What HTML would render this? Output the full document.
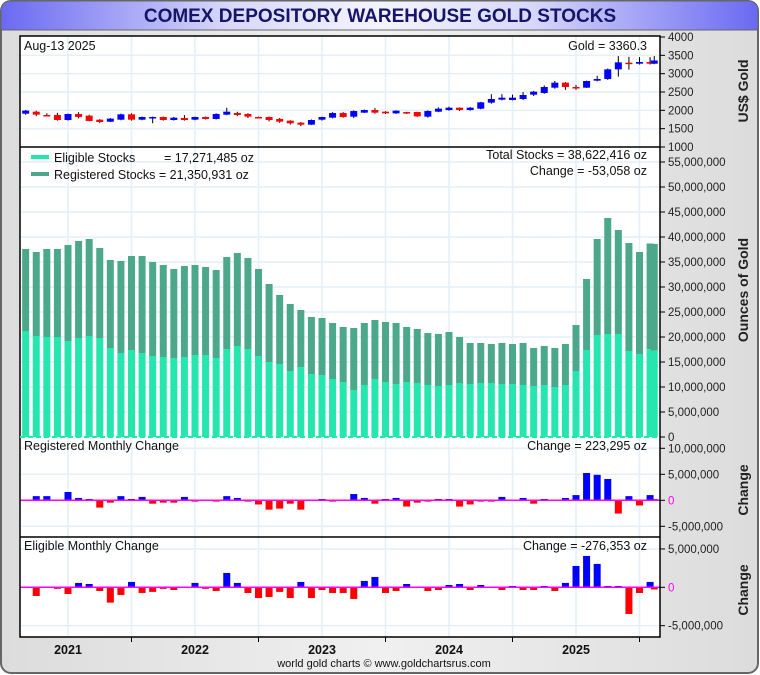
<!DOCTYPE html>
<html><head><meta charset="utf-8"><style>
html,body{margin:0;padding:0;background:#fff;}
svg{display:block;font-family:"Liberation Sans",sans-serif;}
</style></head><body>
<svg id="chart" width="760" height="675" viewBox="0 0 760 675" xmlns="http://www.w3.org/2000/svg">
<defs>
<linearGradient id="tg" x1="0" x2="1" y1="0" y2="0">
<stop offset="0" stop-color="#6a6af2"/><stop offset="0.3" stop-color="#d8d8fa"/><stop offset="0.5" stop-color="#f4f4fe"/><stop offset="0.7" stop-color="#d8d8fa"/><stop offset="1" stop-color="#6a6af2"/>
</linearGradient>
<linearGradient id="bg" x1="0" x2="1" y1="0" y2="0">
<stop offset="0" stop-color="#dcdcdc"/><stop offset="0.5" stop-color="#f0f0f0"/><stop offset="1" stop-color="#dcdcdc"/>
</linearGradient>
</defs>
<rect x="1" y="1" width="757" height="672" rx="10" fill="url(#bg)" stroke="#666" stroke-width="2"/>
<path d="M1,30 L1,11 Q1,1 11,1 L748,1 Q758,1 758,11 L758,30 Z" fill="url(#tg)" stroke="#666" stroke-width="1"/>
<text x="380" y="22" text-anchor="middle" font-size="19" font-weight="bold" fill="#15156a">COMEX DEPOSITORY WAREHOUSE GOLD STOCKS</text>
<rect x="20" y="36" width="640" height="601" fill="#fff"/>
<g id="grid"></g>
<g id="marks"></g>
<g id="frame"></g>
<g id="labels"></g>
</svg>
<script>
const dates = ["2020-09","2020-10","2020-11","2020-12","2021-01","2021-02","2021-03","2021-04","2021-05","2021-06","2021-07","2021-08","2021-09","2021-10","2021-11","2021-12","2022-01","2022-02","2022-03","2022-04","2022-05","2022-06","2022-07","2022-08","2022-09","2022-10","2022-11","2022-12","2023-01","2023-02","2023-03","2023-04","2023-05","2023-06","2023-07","2023-08","2023-09","2023-10","2023-11","2023-12","2024-01","2024-02","2024-03","2024-04","2024-05","2024-06","2024-07","2024-08","2024-09","2024-10","2024-11","2024-12","2025-01","2025-02","2025-03","2025-04","2025-05","2025-06","2025-07","2025-08","2025-08-13"];
const totalStocks = [37.6,37.0,37.6,37.6,38.4,39.2,39.6,37.8,35.4,35.2,
36.2,36.2,35.0,34.4,33.6,34.2,34.4,34.0,33.4,36.0,
36.8,35.8,33.6,30.6,28.4,26.6,25.4,24.0,23.8,22.8,
22.0,21.8,22.8,23.4,23.0,22.8,22.0,21.6,20.8,20.6,
21.0,20.0,18.8,18.8,18.6,18.8,18.6,18.8,17.8,18.2,
17.8,18.6,22.4,31.6,39.6,43.8,41.4,38.8,37.0,38.7,38.62];
const eligibleStocks = [21.2,20.2,20.0,20.0,19.2,19.8,20.2,19.8,17.8,16.8,
17.4,16.8,16.2,16.0,15.8,16.0,16.4,16.4,15.8,17.6,
18.2,17.6,16.2,15.0,14.6,13.2,14.0,12.6,12.4,11.6,
11.0,9.4,10.4,11.6,11.0,10.6,11.0,10.8,10.4,10.2,
10.4,10.8,10.6,10.8,10.8,10.6,10.6,10.4,10.2,10.4,
10.0,10.4,13.2,17.4,20.4,20.6,20.6,17.2,16.6,17.55,17.27];
const regChange = [0,0.8,0.8,0,1.6,0.45,0.25,-1.4,-0.45,0.8,
0.25,0.65,-0.65,-0.45,-0.45,0.65,-0.25,0,-0.25,0.8,
0.45,-0.25,-0.8,-1.8,-1.6,-0.65,-1.8,0,0.25,-0.25,
0,1.2,0.45,-0.65,0.25,0.45,-1.2,-0.45,-0.25,0.25,
0.25,-1.2,-0.8,-0.25,-0.25,0.65,0,0.45,-0.65,0.25,
0,0.45,1.0,5.25,4.9,4.1,-2.55,0.8,-1.0,1.0,0.22];
const eligChange = [0,-1.13,0,-0.2,-0.87,0.57,0.43,-0.48,-2.0,-1.0,
0.7,-0.74,-0.6,-0.2,-0.35,0,0.57,-0.2,-0.48,1.87,
0.57,-0.74,-1.4,-1.26,-0.6,-1.4,0.7,-1.4,-0.35,-0.74,
-0.74,-1.52,0.83,1.35,-0.74,-0.48,0.43,0,-0.48,-0.35,
0.3,0.43,-0.35,0.3,0,-0.35,0.17,-0.35,-0.35,0.17,
-0.48,0.57,2.78,4.09,3.05,0.17,0.17,-3.48,-0.74,0.7,-0.28];
const goldOpen = [1909,1963,1873,1873,1736,1900,1855,1745,1690,1745,
1891,1745,1800,1818,1736,1790,1745,1818,1764,1882,
1927,1900,1818,1818,1764,1718,1664,1609,1745,1800,
1927,1827,1936,2009,1963,1918,1954,1954,1827,1963,
2009,2072,2009,2045,2209,2291,2282,2309,2427,2473,
2618,2754,2636,2618,2809,2854,3118,3300,3272,3318,3272];
const goldClose = [1991,1882,1860,1736,1900,1820,1710,1682,1773,1891,
1745,1818,1818,1736,1800,1736,1818,1764,1900,1963,
1873,1827,1800,1736,1691,1646,1609,1736,1818,1927,
1818,1981,2009,1936,1918,1991,1936,1836,1981,2045,
2072,2009,2072,2218,2309,2345,2345,2418,2509,2636,
2754,2636,2618,2800,2854,3118,3309,3272,3318,3272,3360];
const goldHigh = [2010,1990,1920,1930,1910,1950,1880,1760,1790,1910,
1920,1830,1830,1830,1820,1870,1830,1830,1920,2070,
1960,1920,1830,1830,1790,1730,1680,1750,1830,1950,
1950,2000,2020,2060,1980,2000,1960,1960,2000,2080,
2100,2080,2090,2230,2440,2440,2430,2500,2530,2680,
2800,2770,2690,2810,2940,3140,3480,3460,3450,3450,3480];
const goldLow = [1880,1840,1840,1720,1720,1780,1700,1650,1680,1730,
1720,1730,1650,1720,1720,1720,1730,1750,1750,1870,
1840,1790,1780,1700,1660,1610,1570,1600,1720,1780,
1800,1790,1930,1910,1900,1900,1900,1820,1800,1950,
1990,1980,1990,2030,2180,2270,2270,2280,2390,2450,
2590,2560,2560,2610,2790,2830,2920,3110,3250,3250,3260];
const goldTicks = [1000,1500,2000,2500,3000,3500,4000];
const stockTicks = [0,5,10,15,20,25,30,35,40,45,50,55];
const regTicks = [10,5,0,-5];
const eligTicks = [5,0,-5];
const yearLabels = ["2021","2022","2023","2024","2025"];

const NS = "http://www.w3.org/2000/svg";
function mk(parent, tag, attrs, text){
  const e = document.createElementNS(NS, tag);
  for (const k in attrs) e.setAttribute(k, attrs[k]);
  if (text !== undefined) e.textContent = text;
  parent.appendChild(e); return e;
}
function yearFrac(d){
  const p = d.split("-").map(Number);
  return p[0] + (p[1]-1)/12 + ((p[2]||1)-1)/365;
}
const xOf = d => 68 + (yearFrac(d) - 2021) * 127;
const yGold = p => 147 - (p - 1000) * 110 / 3000;
const yStock = v => 437 - v * 5;
const yReg = v => 500.3 - v * 5.2;
const yElig = v => 587.3 - v * 7.67;

const grid = document.getElementById('grid');
const marks = document.getElementById('marks');
const frame = document.getElementById('frame');
const labels = document.getElementById('labels');
const GC = "#e4eff8";

// vertical grid lines every half year
for (let y = 2021; y <= 2025.5; y += 0.5) {
  const x = 68 + (y - 2021) * 127;
  const l = mk(grid, 'line', {x1:x, x2:x, y1:36, y2:637, stroke:GC, 'stroke-width':1.5});
  
  
}
function hgrid(y){
  const l = mk(grid, 'line', {x1:20, x2:660, y1:y, y2:y, stroke:GC, 'stroke-width':1.5});
  
  
}
goldTicks.forEach(t => { if (t > 1000 && t < 4000) hgrid(yGold(t)); });
stockTicks.forEach(t => { if (t > 0) hgrid(yStock(t)); });
regTicks.forEach(t => { if (t !== 0) hgrid(yReg(t)); });
eligTicks.forEach(t => { if (t !== 0) hgrid(yElig(t)); });

const BW = 7;
// stacked stock bars
dates.forEach((d, i) => {
  const x = xOf(d) - BW/2;
  const r = mk(marks, 'rect', {x:x, width:BW, y:yStock(totalStocks[i]), height:yStock(eligibleStocks[i]) - yStock(totalStocks[i]), fill:'#4ca88a'});
  
  
  const e = mk(marks, 'rect', {x:x, width:BW, y:yStock(eligibleStocks[i]), height:yStock(0) - yStock(eligibleStocks[i]), fill:'#24e6ae'});
  
  
});
// gold candles
dates.forEach((d, i) => {
  const xc = xOf(d);
  const w = mk(marks, 'line', {x1:xc, x2:xc, y1:yGold(goldHigh[i]), y2:yGold(goldLow[i]), stroke:'#000', 'stroke-width':1});
  
  
  const o = goldOpen[i], c = goldClose[i];
  const top = yGold(Math.max(o, c)), bot = yGold(Math.min(o, c));
  const b = mk(marks, 'rect', {x:xc - BW/2, width:BW, y:top, height:Math.max(1.5, bot - top), fill: c >= o ? '#0000ff' : '#ff0000'});
  
  
});
// change bars
function changeBars(arr, yf, name){
  dates.forEach((d, i) => {
    const v = arr[i]; if (v === 0) return;
    const y0 = yf(0), y1 = yf(v);
    const r = mk(marks, 'rect', {x:xOf(d) - BW/2, width:BW, y:Math.min(y0, y1), height:Math.abs(y1 - y0), fill: v > 0 ? '#0000ff' : '#ff0000'});
    
    
  });
  const z = mk(marks, 'line', {x1:20, x2:660, y1:yf(0), y2:yf(0), stroke:'#ff00ff', 'stroke-width':1.5});
  
  
}
changeBars(regChange, yReg, 'registered-change-bar');
changeBars(eligChange, yElig, 'eligible-change-bar');

// frame lines
const fr = mk(frame, 'rect', {x:20, y:36, width:640, height:601, fill:'none', stroke:'#000', 'stroke-width':1.5});


[147, 537].forEach(y => {
  const l = mk(frame, 'line', {x1:20, x2:660, y1:y, y2:y, stroke:'#000', 'stroke-width':1.5});
  
  
});
const gl = mk(frame, 'line', {x1:20, x2:660, y1:437, y2:437, stroke:'#24e6ae', 'stroke-width':2, 'stroke-dasharray':'5,3'});



// axis labels
function ytick(y, txt, color, name){
  const t = mk(labels, 'line', {x1:660, x2:665, y1:y, y2:y, stroke:'#000', 'stroke-width':1});
  
  
  const l = mk(labels, 'text', {x:668, y:y + 4, 'font-size':11.5, fill:color}, txt);
  
  
}
const fmt = v => (v * 1000000).toLocaleString('en-US');
goldTicks.forEach(t => ytick(yGold(t), String(t), '#222', 'gold-axis'));
stockTicks.forEach(t => ytick(yStock(t), fmt(t), '#222', 'stocks-axis'));
regTicks.forEach(t => { if (t !== 10 || true) ytick(yReg(t), t === 0 ? '0' : fmt(t), t === 0 ? '#ff00ff' : '#222', 'registered-change-axis'); });
eligTicks.forEach(t => ytick(yElig(t), t === 0 ? '0' : fmt(t), t === 0 ? '#ff00ff' : '#222', 'eligible-change-axis'));

yearLabels.forEach((yr, i) => {
  const x = 68 + i * 127;
  const l = mk(labels, 'text', {x:x, y:654, 'font-size':12.5, 'font-weight':'bold', 'text-anchor':'middle', fill:'#111'}, yr);
  
  
  const t = mk(labels, 'line', {x1:x + 63.5, x2:x + 63.5, y1:637, y2:642, stroke:'#000'});
  
  
});
const t0 = mk(labels, 'line', {x1:68 - 63.5 + 127, x2:68 - 63.5 + 127, y1:637, y2:637, stroke:'#000'});



function rotTitle(x, y, txt, name){
  const l = mk(labels, 'text', {x:x, y:y, 'font-size':14, 'font-weight':'bold', fill:'#222', 'text-anchor':'middle', transform:'rotate(-90 ' + x + ' ' + y + ')'}, txt);
  
  
}
rotTitle(748, 91, 'US$ Gold', 'gold-axis-title');
rotTitle(748, 290, 'Ounces of Gold', 'stocks-axis-title');
rotTitle(748, 490, 'Change', 'registered-change-axis-title');
rotTitle(748, 590, 'Change', 'eligible-change-axis-title');

function txt(x, y, s, anchor, name){
  const l = mk(labels, 'text', {x:x, y:y, 'font-size':12.5, fill:'#111', 'text-anchor':anchor}, s);
  
  
}
txt(24, 50, 'Aug-13  2025', 'start', 'date-label');
txt(647, 50, 'Gold = 3360.3', 'end', 'gold-price-label');
txt(647, 159, 'Total Stocks = 38,622,416 oz', 'end', 'total-stocks-label');
txt(647, 175, 'Change = -53,058 oz', 'end', 'total-change-label');
txt(24, 450, 'Registered Monthly Change', 'start', 'registered-change-title');
txt(647, 450, 'Change = 223,295 oz', 'end', 'registered-change-value');
txt(24, 550, 'Eligible Monthly Change', 'start', 'eligible-change-title');
txt(647, 550, 'Change = -276,353 oz', 'end', 'eligible-change-value');

const s1 = mk(labels, 'rect', {x:31, y:155, width:18, height:4, fill:'#24e6ae'});


txt(54, 162, 'Eligible Stocks', 'start', 'legend-entry-eligible');
txt(164, 162, '= 17,271,485 oz', 'start', 'legend-value-eligible');
const s2 = mk(labels, 'rect', {x:31, y:172, width:18, height:4, fill:'#4ca88a'});


txt(54, 179, 'Registered Stocks = 21,350,931 oz', 'start', 'legend-entry-registered');

const f = mk(labels, 'text', {x:384, y:667, 'font-size':11, fill:'#111', 'text-anchor':'middle'}, 'world gold charts \u00a9 www.goldchartsrus.com');


</script>
</body></html>
